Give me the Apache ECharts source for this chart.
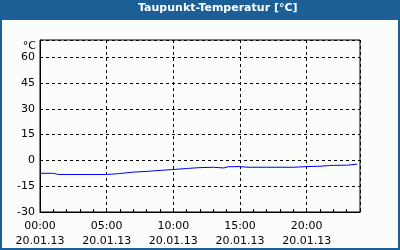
<!DOCTYPE html>
<html>
<head>
<meta charset="utf-8">
<script src="https://cdn.jsdelivr.net/npm/echarts@6/dist/echarts.min.js"></script>
<style>
  html, body { margin: 0; padding: 0; background: #fbfdfb; }
  #chart { width: 400px; height: 250px; }
</style>
</head>
<body>
<div id="chart"></div>
<script>
// hours since 00:00 on 20.01.13
let hours = [0, 1, 1.4, 2, 3, 4, 5, 5.9, 7, 8, 9, 10, 11, 12, 13, 13.8, 14.1, 15, 15.6, 17, 18, 19, 20, 21, 21.7, 22, 23, 23.8];
let dewPoint = [-7.5, -7.5, -8.2, -8.2, -8.2, -8.2, -8.2, -7.7, -6.8, -6.4, -5.8, -5.3, -4.7, -4.2, -4.0, -4.4, -3.7, -3.6, -4.0, -4.0, -4.0, -4.0, -3.6, -3.4, -3.0, -2.9, -2.8, -2.2];
let dateLabel = '20.01.13';
let titleText = 'Taupunkt-Temperatur [°C]';

let font = 'DejaVu Sans';
let blue = '#1c5f96';

let seriesData = hours.map((h, i) => [h, dewPoint[i]]);

function hourLabel(v) {
    let h = Math.round(v);
    return (h < 10 ? '0' + h : h) + ':00\n' + dateLabel;
}

let option = {
    animation: false,
    backgroundColor: '#fbfdfb',
    grid: {
        show: true,
        left: 40,
        right: 40,
        top: 40,
        bottom: 38,
        borderColor: '#000',
        borderWidth: 1,
        backgroundColor: 'transparent'
    },
    graphic: [{
        type: 'rect',
        shape: {x: 0, y: 0, width: 400, height: 20},
        style: {fill: blue}
    }, {
        type: 'rect',
        shape: {x: 1, y: 1, width: 398, height: 248},
        style: {fill: 'none', stroke: blue, lineWidth: 2}
    }, {
        type: 'text',
        left: 138,
        top: 3,
        style: {
            text: titleText,
            fill: '#fff',
            font: 'bold 11px ' + font
        }
    }, {
        type: 'text',
        right: 364,
        top: 41,
        style: {
            text: '°C',
            fill: '#000',
            font: '11px ' + font,
            textAlign: 'right'
        }
    }],
    xAxis: [{
        type: 'value',
        min: 0,
        max: 24,
        interval: 5,
        axisLine: {show: true, onZero: false, lineStyle: {color: '#000', width: 1}},
        axisTick: {show: false},
        splitLine: {show: true, lineStyle: {color: '#000', type: [3, 3], width: 1}},
        axisLabel: {
            showMaxLabel: false,
            color: '#000',
            fontFamily: font,
            fontSize: 11,
            lineHeight: 15,
            margin: 7,
            formatter: hourLabel
        }
    }, {
        type: 'value',
        min: 0,
        max: 24,
        interval: 1,
        position: 'bottom',
        axisLine: {show: false, onZero: false},
        axisTick: {show: true, inside: true, length: 3, lineStyle: {color: '#000'}},
        axisLabel: {show: false},
        splitLine: {show: false}
    }],
    yAxis: {
        type: 'value',
        min: -30,
        max: 70,
        interval: 15,
        axisLine: {show: true, onZero: false, lineStyle: {color: '#000', width: 1}},
        axisTick: {show: false},
        splitLine: {show: true, lineStyle: {color: '#000', type: [3, 3], width: 1}},
        axisLabel: {
            showMaxLabel: false,
            color: '#000',
            fontFamily: font,
            fontSize: 11,
            margin: 5
        }
    },
    series: [{
        type: 'line',
        xAxisIndex: 0,
        data: seriesData,
        showSymbol: false,
        lineStyle: {color: '#0000ff', width: 1},
        itemStyle: {color: '#0000ff'}
    }]
};

echarts.init(document.getElementById('chart')).setOption(option);
</script>
</body>
</html>
